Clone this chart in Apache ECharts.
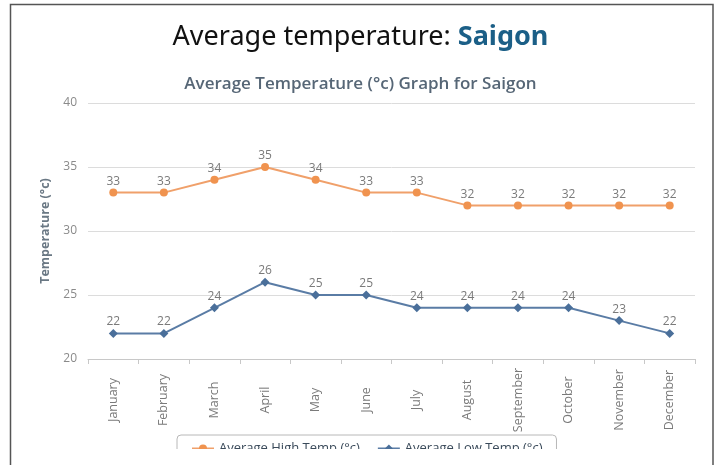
<!DOCTYPE html>
<html>
<head>
<meta charset="utf-8">
<script src="https://cdn.jsdelivr.net/npm/echarts@6/dist/echarts.min.js"></script>
<style>
    html, body { margin: 0; padding: 0; background: #fff; }
    #chart { width: 721px; height: 465px; }
</style>
</head>
<body>
<div id="chart"></div>
<script>
    // months on the x axis
    const months = ['January', 'February', 'March', 'April', 'May', 'June',
        'July', 'August', 'September', 'October', 'November', 'December']
    // average high / low temperature (°c)
    const highTemp = [33, 33, 34, 35, 34, 33, 33, 32, 32, 32, 32, 32]
    const lowTemp = [22, 22, 24, 26, 25, 25, 24, 24, 24, 24, 23, 22]

    const myChart = echarts.init(document.getElementById('chart'))

    const option = {
        animation: false,
        title: [
            {
                text: '{a|Average temperature: }{b|Saigon}',
                left: 'center',
                top: 19,
                textStyle: {
                    fontWeight: 'normal',
                    rich: {
                        a: { fontFamily: 'Noto Sans', fontSize: 27, fontWeight: 'normal', color: '#111' },
                        b: { fontFamily: 'Noto Sans', fontSize: 27, fontWeight: 'bold', color: '#1b5f87' }
                    }
                }
            },
            {
                text: 'Average Temperature (°c) Graph for Saigon',
                left: 'center',
                top: 71,
                textStyle: { fontFamily: 'Open Sans', fontSize: 17, fontWeight: 600, color: '#566676' }
            }
        ],
        grid: { left: 88, right: 26, top: 103, bottom: 106 },
        legend: {
            left: 177,
            top: 435,
            padding: [7, 14, 8, 14],
            borderColor: '#b8b8b8',
            borderWidth: 1,
            borderRadius: 4,
            itemGap: 17,
            itemWidth: 22,
            itemHeight: 10,
            textStyle: { fontFamily: 'Open Sans', fontSize: 13, color: '#3a4a5a' },
            data: ['Average High Temp (°c)', 'Average Low Temp (°c)']
        },
        xAxis: {
            type: 'category',
            data: months,
            axisLine: { lineStyle: { color: '#c8c8c8' } },
            axisTick: { show: true, length: 5, lineStyle: { color: '#c8c8c8' } },
            axisLabel: {
                rotate: 90,
                align: 'center',
                verticalAlign: 'middle',
                margin: 41,
                fontFamily: 'Open Sans',
                fontSize: 12.5,
                color: '#7a7a7a'
            }
        },
        yAxis: {
            type: 'value',
            min: 20,
            max: 40,
            interval: 5,
            name: 'Temperature (°c)',
            nameLocation: 'middle',
            nameGap: 34,
            nameTextStyle: { fontFamily: 'Open Sans', fontSize: 12.5, fontWeight: 'bold', color: '#6a7884' },
            axisLine: { show: false },
            axisTick: { show: false },
            axisLabel: { fontFamily: 'Open Sans', fontSize: 12, color: '#8a8a8a', margin: 11 },
            splitLine: { lineStyle: { color: '#dcdcdc' } }
        },
        series: [
            {
                name: 'Average High Temp (°c)',
                type: 'line',
                data: highTemp,
                symbol: 'circle',
                symbolSize: 8,
                color: '#f0934f',
                lineStyle: { width: 2, color: '#f0a06a' },
                label: { show: true, position: 'top', distance: 1, fontFamily: 'Open Sans', fontSize: 12, color: '#7a7a7a' }
            },
            {
                name: 'Average Low Temp (°c)',
                type: 'line',
                data: lowTemp,
                symbol: 'diamond',
                symbolSize: 9,
                color: '#4a6f9a',
                lineStyle: { width: 2, color: '#5a7ca5' },
                label: { show: true, position: 'top', distance: 1, fontFamily: 'Open Sans', fontSize: 12, color: '#7a7a7a' }
            }
        ],
        graphic: [
            {
                // white strip hiding the lower half of the legend
                type: 'rect',
                z: 100,
                shape: { x: 12, y: 449, width: 700, height: 16 },
                style: { fill: '#fff' }
            },
            {
                // outer frame
                type: 'rect',
                z: 101,
                shape: { x: 10.5, y: 4.5, width: 702.5, height: 470 },
                style: { fill: 'none', stroke: '#555', lineWidth: 1.5 }
            }
        ]
    }

    myChart.setOption(option)
</script>
</body>
</html>
